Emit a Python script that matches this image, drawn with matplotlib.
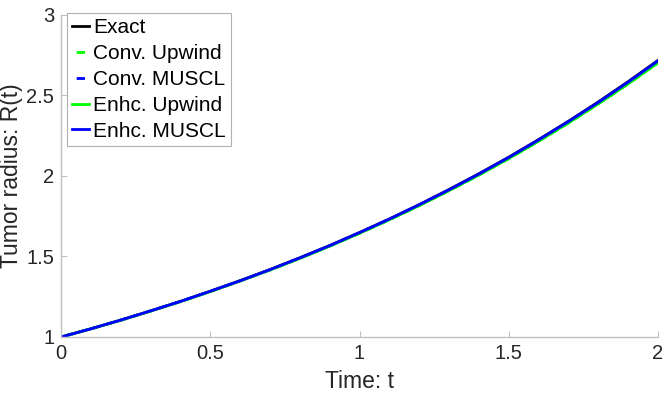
import matplotlib
matplotlib.use("Agg")
import matplotlib.pyplot as plt

plt.rcParams['font.family'] = ['Liberation Sans', 'DejaVu Sans']

t = [0.0, 0.1, 0.2, 0.3, 0.4, 0.5, 0.6, 0.7, 0.8, 0.9, 1.0,
     1.1, 1.2, 1.3, 1.4, 1.5, 1.6, 1.7, 1.8, 1.9, 2.0]
r_exact = [1.000, 1.051, 1.105, 1.162, 1.221, 1.284, 1.350, 1.419, 1.492, 1.568, 1.649,
           1.733, 1.822, 1.916, 2.014, 2.117, 2.226, 2.340, 2.460, 2.586, 2.718]
r_conv_up = [1.000, 1.051, 1.104, 1.161, 1.220, 1.282, 1.348, 1.416, 1.488, 1.564, 1.644,
             1.728, 1.816, 1.909, 2.006, 2.108, 2.216, 2.329, 2.448, 2.572, 2.703]
r_conv_mu = [1.000, 1.051, 1.105, 1.162, 1.221, 1.284, 1.349, 1.418, 1.491, 1.567, 1.648,
             1.732, 1.821, 1.914, 2.012, 2.115, 2.224, 2.338, 2.457, 2.583, 2.715]
r_enh_up = [1.000, 1.051, 1.104, 1.161, 1.220, 1.282, 1.348, 1.416, 1.488, 1.564, 1.644,
            1.728, 1.816, 1.909, 2.006, 2.108, 2.216, 2.329, 2.448, 2.572, 2.703]
r_enh_mu = [1.000, 1.051, 1.105, 1.162, 1.221, 1.284, 1.349, 1.418, 1.491, 1.567, 1.648,
            1.732, 1.821, 1.914, 2.012, 2.115, 2.224, 2.338, 2.457, 2.583, 2.715]

green = '#00ff00'
blue = '#0000ff'
dash = (3.5, (3, 2))

fig = plt.figure(figsize=(6.64, 3.94), dpi=100)
ax = fig.add_axes([0.092, 0.1447, 0.899, 0.8173])

ax.plot(t, r_exact, color='black', lw=2, label='Exact')
ax.plot(t, r_conv_up, color=green, lw=2, ls=dash, label='Conv. Upwind')
ax.plot(t, r_conv_mu, color=blue, lw=2, ls=dash, label='Conv. MUSCL')
ax.plot(t, r_enh_up, color=green, lw=2, label='Enhc. Upwind')
ax.plot(t, r_enh_mu, color=blue, lw=2, label='Enhc. MUSCL')

ax.set_xlim(0, 2)
ax.set_ylim(1, 3)
ax.set_xticks([0, 0.5, 1, 1.5, 2])
ax.set_xticklabels(['0', '0.5', '1', '1.5', '2'])
ax.set_yticks([1, 1.5, 2, 2.5, 3])
ax.set_yticklabels(['1', '1.5', '2', '2.5', '3'])

for s in ['top', 'right']:
    ax.spines[s].set_visible(False)
for s in ['left', 'bottom']:
    ax.spines[s].set_color('#c0c0c0')
    ax.spines[s].set_linewidth(1)
ax.tick_params(direction='in', length=4, width=0.8, color='#c0c0c0',
               labelsize=14.5, labelcolor='#262626', pad=5)

ax.set_xlabel('Time: t', fontsize=16.5, color='#262626', labelpad=5)
ax.set_ylabel('Tumor radius: R(t)', fontsize=16.5, color='#262626', labelpad=2)

leg = ax.legend(loc='upper left', bbox_to_anchor=(0.01, 1.006), borderaxespad=0,
                fontsize=15, handlelength=0.8, handletextpad=0.2, labelspacing=0.33,
                borderpad=0.25, fancybox=False, framealpha=1, edgecolor='#b0b0b0')
leg.get_frame().set_linewidth(0.8)
for txt in leg.get_texts():
    txt.set_color('black')

fig.savefig('out.png', dpi=100)
